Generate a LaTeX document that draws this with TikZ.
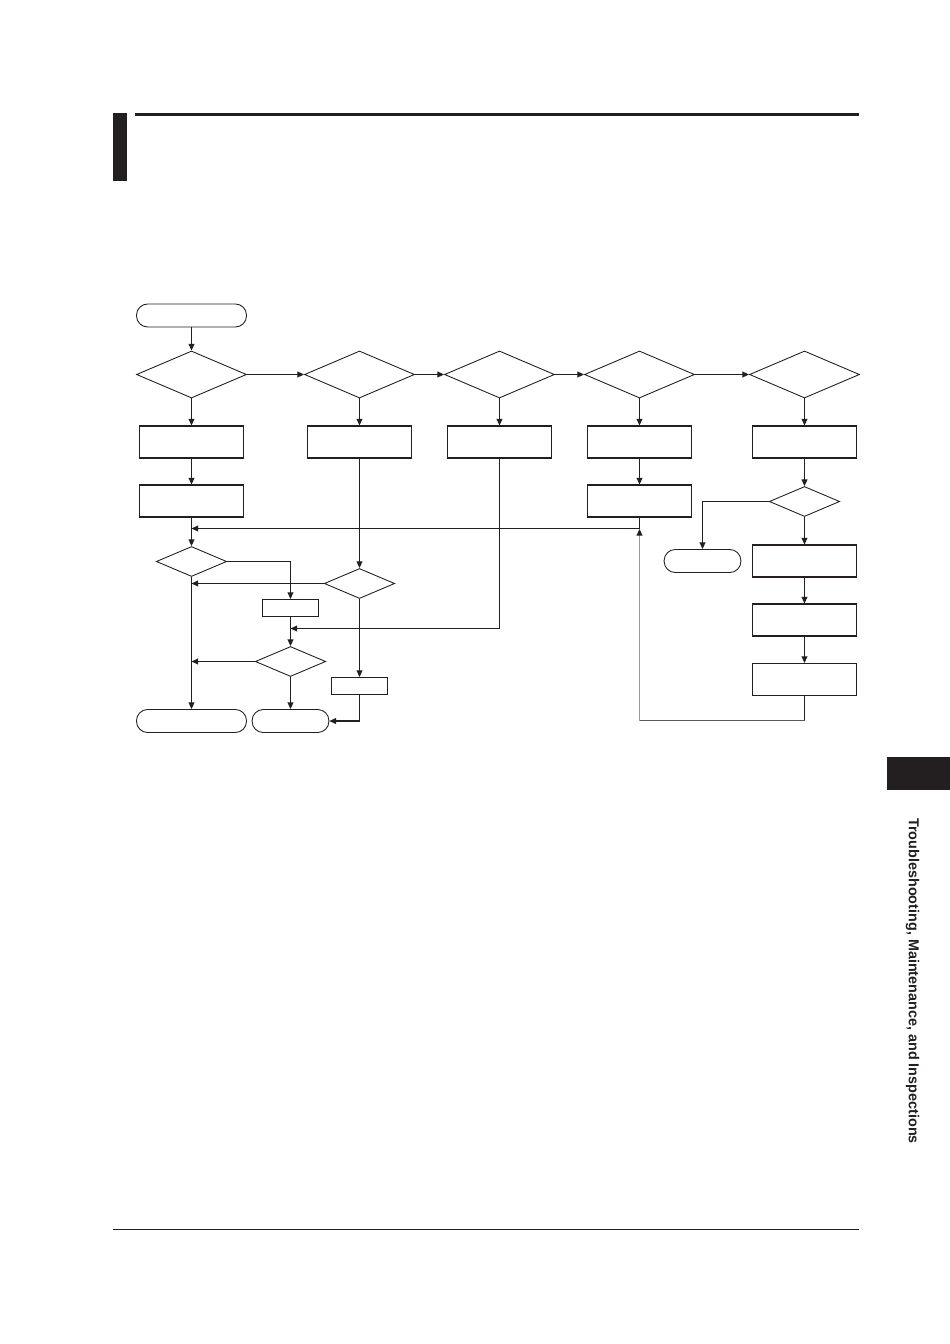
\documentclass[tikz,border=0pt]{standalone}
\usepackage{fontspec}
\setmainfont{Liberation Sans}
\usetikzlibrary{shapes.geometric,arrows.meta}
\definecolor{ink}{HTML}{231F20}
\definecolor{loopdark}{HTML}{5A5A5A}
\definecolor{looplight}{HTML}{999999}
\tikzset{
  procbox/.style={draw=ink,line width=0.65pt,inner sep=0pt,minimum width=65pt,minimum height=20pt},
  smallbox/.style={draw=ink,line width=0.65pt,inner sep=0pt,minimum width=35.5pt,minimum height=10.6pt},
  decision/.style={draw=ink,diamond,line width=0.55pt,inner sep=0pt,minimum width=68.75pt,minimum height=29.4pt},
  smalldecision/.style={draw=ink,diamond,line width=0.55pt,inner sep=0pt,minimum width=44pt,minimum height=18.75pt},
  terminal/.style={draw=ink,line width=0.55pt,rounded corners=7pt,inner sep=0pt,minimum width=68.75pt,minimum height=14.4pt},
  shortterminal/.style={terminal,minimum width=48pt},
  flow/.style={->,draw=ink,line width=0.7pt}
}
\begin{document}
\begin{tikzpicture}[x=0.625pt,y=-0.625pt,>={Triangle[length=4.2pt,width=3.7pt,color=ink]}]
 \useasboundingbox (0,0) rectangle (950,1344);
 % page furniture
 \fill[ink] (113,113) rectangle (127,181);
 \fill[ink] (135,113) rectangle (859,116);
 \draw[ink,line width=0.8pt] (113,1229.5) -- (859,1229.5);
 \fill[ink] (887,757) rectangle (950,790);
 \node[rotate=-90,anchor=west,inner sep=0pt,font=\bfseries\fontsize{9}{10.8}\selectfont,text=ink]
   (side) at (912.5,818) {Troubleshooting, Maintenance, and Inspections};
 % top row
 \node[terminal] (start) at (191.5,315.5) {};
 \node[decision] (d1) at (191.5,374.5) {};
 \node[decision] (d2) at (359.5,374.5) {};
 \node[decision] (d3) at (499.5,374.5) {};
 \node[decision] (d4) at (639.5,374.5) {};
 \node[decision] (d5) at (804.5,374.5) {};
 \node[procbox] (b1) at (191.5,442) {};
 \node[procbox] (b2) at (359.5,442) {};
 \node[procbox] (b3) at (499.5,442) {};
 \node[procbox] (b4) at (639.5,442) {};
 \node[procbox] (b5) at (804.5,442) {};
 \node[procbox] (b1b) at (191.5,501) {};
 \node[procbox] (b4b) at (639.5,501) {};
 % lower left
 \node[smalldecision] (dA) at (191.5,561.5) {};
 \node[smallbox] (bB) at (290.5,608) {};
 \node[smalldecision] (dC) at (359.5,583.5) {};
 \node[smalldecision] (dD) at (290.5,661.5) {};
 \node[smallbox] (bE) at (359.5,686) {};
 \node[terminal] (t1) at (191.5,721) {};
 \node[shortterminal] (t2) at (290.5,721) {};
 % right column
 \node[smalldecision] (d5b) at (804.5,501.5) {};
 \node[shortterminal] (t3) at (702.5,561) {};
 \node[procbox] (b5c) at (804.5,561) {};
 \node[procbox] (b5d) at (804.5,620) {};
 \node[procbox] (b5e) at (804.5,679.5) {};
 \coordinate (m1) at (191.5,528.5);
 \coordinate (m2) at (191.5,583.5);
 \coordinate (m3) at (290.5,628.5);
 \coordinate (m4) at (191.5,661.5);
 \coordinate (mg) at (639.5,529);
 \coordinate (lp1) at (804.5,720.5);
 \coordinate (lp2) at (639.5,720.5);
 % connectors
 \draw[flow] (start) -- (d1);
 \draw[flow] (d1) -- (d2);
 \draw[flow] (d2) -- (d3);
 \draw[flow] (d3) -- (d4);
 \draw[flow] (d4) -- (d5);
 \foreach \d/\b in {d1/b1,d2/b2,d3/b3,d4/b4,d5/b5,b1/b1b,b4/b4b,b5/d5b,b1b/dA,b2/dC,bB/dD,dD/t2,dA/t1,dC/bE,d5b/b5c,b5c/b5d,b5d/b5e}
  \draw[flow] (\d) -- (\b);
 \draw[flow] (b4b.south) |- (m1);
 \draw[flow] (dA.east) -| (bB.north);
 \draw[flow] (dC.west) -- (m2);
 \draw[flow] (b3.south) |- (m3);
 \draw[flow] (dD.west) -- (m4);
 \draw[flow] (bE.south) |- (t2.east);
 \draw[flow] (d5b.west) -| (t3.north);
 \draw[ink,line width=0.7pt] (b5e.south) -- (lp1);
 \draw[loopdark,line width=0.7pt] (lp1) -- (lp2);
 \draw[->,looplight,line width=0.8pt] (lp2) -- (mg);
\end{tikzpicture}
\end{document}
